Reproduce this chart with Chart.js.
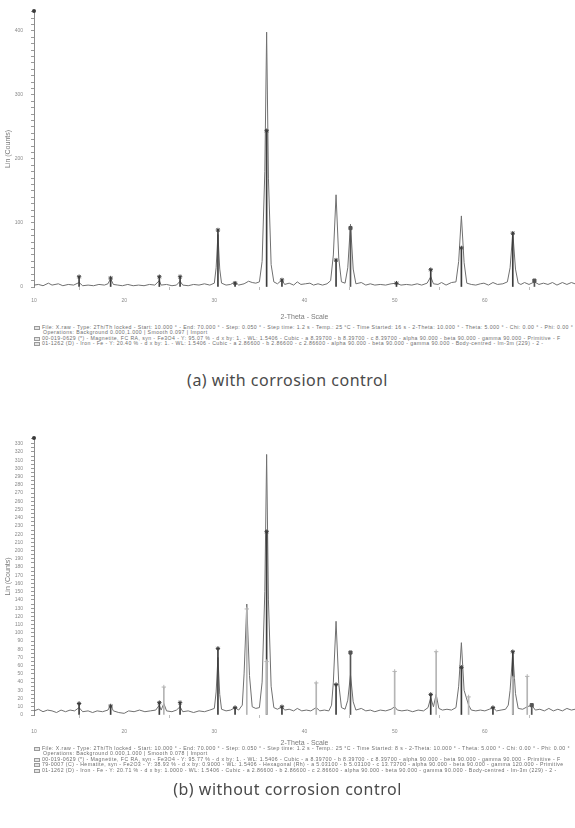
<!DOCTYPE html>
<html>
<head>
<meta charset="utf-8">
<script src="https://cdn.jsdelivr.net/npm/chart.js@4.4.1/dist/chart.umd.min.js"></script>
<style>
  body { margin: 0; background: #fff; }
  #page { position: relative; width: 575px; height: 828px; overflow: hidden; font-family: "Liberation Sans", Arial, sans-serif; }
  canvas { position: absolute; left: 0; }
  .foot { position: absolute; left: 34px; width: 540px; color: #6e6e6e; font-size: 5.2px; line-height: 5.4px; letter-spacing: 0.42px; }
  .foot div { white-space: nowrap; overflow: hidden; }
  .foot .ind { padding-left: 9px; }
  .ico { display: inline-block; width: 6px; height: 4px; border: 1px solid #9a9a9a; background: #e4e4e4; margin-right: 2px; vertical-align: -1px; box-sizing: border-box; }
  .caption { position: absolute; left: 0; width: 575px; text-align: center; font-family: "Noto Sans", sans-serif; font-size: 16px; letter-spacing: 0.5px; color: #4a4a4a; }
</style>
</head>
<body>
<div id="page">
  <canvas id="xrdA" width="575" height="322" style="top:0"></canvas>
  <div class="foot" style="top:325px">
    <div><span class="ico"></span>File: X.raw - Type: 2Th/Th locked - Start: 10.000 ° - End: 70.000 ° - Step: 0.050 ° - Step time: 1.2 s - Temp.: 25 °C - Time Started: 16 s - 2-Theta: 10.000 ° - Theta: 5.000 ° - Chi: 0.00 ° - Phi: 0.00 °</div>
    <div class="ind">Operations: Background 0.000,1.000 | Smooth 0.097 | Import</div>
    <div><span class="ico"></span>00-019-0629 (*) - Magnetite, FC RA, syn - Fe3O4 - Y: 95.07 % - d x by: 1. - WL: 1.5406 - Cubic - a 8.39700 - b 8.39700 - c 8.39700 - alpha 90.000 - beta 90.000 - gamma 90.000 - Primitive - F</div>
    <div><span class="ico"></span>01-1262 (D) - Iron - Fe - Y: 20.40 % - d x by: 1. - WL: 1.5406 - Cubic - a 2.86600 - b 2.86600 - c 2.86600 - alpha 90.000 - beta 90.000 - gamma 90.000 - Body-centred - Im-3m (229) - 2 -</div>
  </div>
  <div class="caption" style="top:369px">(a) with corrosion control</div>

  <canvas id="xrdB" width="575" height="323" style="top:427px"></canvas>
  <div class="foot" style="top:746px">
    <div><span class="ico"></span>File: X.raw - Type: 2Th/Th locked - Start: 10.000 ° - End: 70.000 ° - Step: 0.050 ° - Step time: 1.2 s - Temp.: 25 °C - Time Started: 8 s - 2-Theta: 10.000 ° - Theta: 5.000 ° - Chi: 0.00 ° - Phi: 0.00 °</div>
    <div class="ind">Operations: Background 0.000,1.000 | Smooth 0.078 | Import</div>
    <div><span class="ico"></span>00-019-0629 (*) - Magnetite, FC RA, syn - Fe3O4 - Y: 95.77 % - d x by: 1. - WL: 1.5406 - Cubic - a 8.39700 - b 8.39700 - c 8.39700 - alpha 90.000 - beta 90.000 - gamma 90.000 - Primitive - F</div>
    <div><span class="ico"></span>79-0007 (C) - Hematite, syn - Fe2O3 - Y: 38.93 % - d x by: 0.9000 - WL: 1.5406 - Hexagonal (Rh) - a 5.03100 - b 5.03100 - c 13.73700 - alpha 90.000 - beta 90.000 - gamma 120.000 - Primitive</div>
    <div><span class="ico"></span>01-1262 (D) - Iron - Fe - Y: 20.71 % - d x by: 1.0000 - WL: 1.5406 - Cubic - a 2.86600 - b 2.86600 - c 2.86600 - alpha 90.000 - beta 90.000 - gamma 90.000 - Body-centred - Im-3m (229) - 2 -</div>
  </div>
  <div class="caption" style="top:778px">(b) without corrosion control</div>
</div>

<script>
// (a) with corrosion control: measured pattern
const thetaA = [10.0, 10.5, 11.0, 11.6, 12.0, 12.7, 13.2, 13.8, 14.4, 15.0, 15.4, 16.0, 16.6, 17.2, 17.8, 18.2, 18.5, 18.8, 19.3, 19.8,
  20.4, 21.0, 21.6, 22.2, 22.8, 23.4, 23.9, 24.1, 24.7, 25.3, 25.8, 26.2, 26.5, 27.1, 27.7, 28.3, 28.9, 29.5, 30.0, 30.2,
  30.4, 30.6, 30.8, 31.3, 31.8, 32.3, 32.7, 33.3, 33.8, 34.2, 34.6, 35.0, 35.3, 35.6, 35.8, 36.0, 36.3, 36.6, 37.0, 37.5,
  37.8, 38.3, 38.8, 39.2, 39.6, 40.1, 40.6, 41.0, 41.5, 42.0, 42.5, 42.9, 43.2, 43.5, 43.8, 44.1, 44.5, 44.8, 45.1, 45.4,
  45.7, 46.3, 46.8, 47.3, 47.8, 48.4, 49.0, 49.6, 50.2, 50.7, 51.3, 51.9, 52.5, 53.0, 53.6, 54.0, 54.3, 54.8, 55.2, 55.7,
  56.3, 56.8, 57.1, 57.4, 57.7, 58.0, 58.5, 59.0, 59.5, 59.9, 60.4, 60.9, 61.4, 62.0, 62.5, 62.8, 63.1, 63.4, 63.7, 64.0,
  64.4, 64.9, 65.5, 66.0, 66.5, 67.0, 67.5, 68.0, 68.6, 69.1, 69.6, 70.0];
const countsA = [3, 4, 2, 6, 3, 5, 2, 4, 3, 7, 2, 3, 2, 4, 3, 5, 13, 4, 3, 2,
  4, 2, 3, 2, 4, 3, 10, 3, 4, 2, 3, 9, 3, 2, 4, 3, 5, 3, 6, 30,
  82, 28, 6, 3, 4, 8, 3, 5, 9, 7, 6, 8, 40, 180, 398, 170, 35, 8, 5, 11,
  4, 6, 3, 8, 4, 5, 6, 3, 5, 3, 5, 10, 50, 144, 45, 8, 6, 30, 98, 28,
  5, 7, 3, 5, 3, 4, 3, 5, 6, 3, 4, 3, 5, 3, 6, 16, 5, 4, 7, 3,
  7, 8, 40, 111, 38, 6, 4, 3, 5, 6, 3, 7, 4, 5, 8, 30, 85, 28, 6, 4,
  7, 4, 8, 4, 6, 4, 7, 3, 7, 4, 7, 5];
// (a) reference lines
const magnetitePosA = [15.0, 18.5, 23.9, 26.2, 30.4, 32.3, 35.8, 37.5, 43.5, 50.2, 54.0, 57.4, 63.1];
const magnetiteHA = [16, 14, 16, 16, 89, 6, 244, 11, 42, 6, 27, 61, 84];
const ironPosA = [45.1, 65.5];
const ironHA = [92, 10];

// (b) without corrosion control: measured pattern
const thetaB = [10.0, 10.5, 11.0, 11.5, 12.0, 12.5, 13.0, 13.5, 14.0, 14.5, 15.0, 15.4, 16.0, 16.5, 17.0, 17.6, 18.2, 18.5, 18.8, 19.4,
  20.0, 20.5, 21.1, 21.7, 22.3, 22.9, 23.5, 23.9, 24.1, 24.4, 24.7, 25.3, 25.8, 26.2, 26.5, 27.1, 27.7, 28.3, 28.9, 29.5,
  30.0, 30.2, 30.4, 30.6, 30.8, 31.3, 31.8, 32.3, 32.7, 33.1, 33.3, 33.6, 33.9, 34.2, 34.6, 35.0, 35.3, 35.6, 35.8, 36.0,
  36.3, 36.6, 37.0, 37.5, 37.8, 38.3, 38.8, 39.2, 39.7, 40.2, 40.7, 41.3, 41.7, 42.2, 42.7, 43.0, 43.2, 43.5, 43.8, 44.1,
  44.5, 44.8, 45.1, 45.4, 45.7, 46.3, 46.8, 47.3, 47.8, 48.4, 49.0, 49.6, 50.0, 50.3, 50.8, 51.4, 52.0, 52.6, 53.2, 53.7,
  54.0, 54.3, 54.6, 54.9, 55.3, 55.8, 56.3, 56.8, 57.1, 57.4, 57.7, 58.2, 58.5, 59.0, 59.5, 60.0, 60.5, 60.9, 61.3, 61.8,
  62.3, 62.6, 62.8, 63.1, 63.4, 63.7, 64.2, 64.7, 65.2, 65.6, 66.1, 66.6, 67.1, 67.6, 68.1, 68.6, 69.1, 69.6, 70.0];
const countsB = [5, 7, 4, 6, 5, 3, 6, 4, 6, 5, 9, 4, 5, 3, 5, 4, 6, 12, 5, 3,
  2, 5, 4, 6, 4, 5, 6, 12, 6, 14, 5, 4, 6, 10, 4, 5, 3, 5, 4, 6,
  8, 28, 70, 25, 7, 5, 6, 9, 6, 12, 50, 135, 48, 10, 8, 9, 40, 150, 317, 140,
  35, 9, 7, 10, 6, 7, 5, 8, 5, 6, 5, 9, 5, 6, 5, 12, 40, 114, 38, 9,
  7, 18, 49, 16, 6, 8, 5, 6, 4, 6, 5, 7, 10, 6, 5, 6, 4, 6, 5, 9,
  21, 10, 25, 8, 6, 7, 6, 9, 35, 88, 30, 12, 6, 5, 6, 5, 7, 9, 5, 6,
  7, 12, 30, 76, 26, 8, 7, 10, 12, 6, 7, 5, 8, 5, 7, 5, 8, 6, 7];
// (b) reference lines
const magnetitePosB = [15.0, 18.5, 23.9, 26.2, 30.4, 32.3, 35.8, 37.5, 43.5, 54.0, 57.4, 60.9, 63.1];
const magnetiteHB = [14, 11, 15, 15, 81, 9, 223, 10, 37, 25, 58, 9, 77];
const hematitePosB = [24.4, 33.6, 35.8, 41.3, 50.0, 54.6, 58.2, 63.1, 64.7];
const hematiteHB = [34, 129, 65, 39, 53, 77, 22, 45, 47];
const ironPosB = [45.1, 65.2];
const ironHB = [76, 12];

const axisDot = {
  id: 'axisDot',
  afterDraw(chart) {
    const { ctx, chartArea } = chart;
    ctx.save();
    ctx.fillStyle = '#3a3a3a';
    ctx.beginPath();
    ctx.arc(chartArea.left, chartArea.top, 2, 0, Math.PI * 2);
    ctx.fill();
    ctx.restore();
  }
};

function drawPattern(givenId, theta, counts, phases, yMax, yStep, labelStep, tickPad, titlePad) {
  const datasets = [{
    type: 'line',
    data: theta.map((t, i) => ({ x: t, y: counts[i] })),
    borderColor: '#707070',
    borderWidth: 1,
    pointRadius: 0,
    pointHoverRadius: 0,
    tension: 0,
    order: 3
  }];
  phases.forEach(ph => {
    const pts = ph.pos.map((p, i) => ({ x: p, y: ph.h[i] }));
    datasets.push({
      type: 'bar', data: pts, backgroundColor: ph.color,
      barThickness: 1, grouped: false, order: 2
    });
    datasets.push({
      type: 'line', data: pts, showLine: false, pointStyle: ph.marker,
      pointRadius: 2.2, pointHoverRadius: 0, pointBorderWidth: 1, pointBorderColor: ph.color,
      pointBackgroundColor: ph.color, order: 1
    });
  });

  new Chart(document.getElementById(givenId), {
    type: 'line',
    data: { datasets },
    options: {
      responsive: false,
      animation: false,
      devicePixelRatio: 1,
      events: [],
      layout: { autoPadding: false, padding: { top: 11, left: 0, right: 0, bottom: 0 } },
      plugins: { legend: { display: false }, tooltip: { enabled: false } },
      scales: {
        x: {
          type: 'linear', min: 10, max: 70, offset: false,
          ticks: { stepSize: 10, padding: tickPad, color: '#8a8a8a', font: { size: 5 },
            callback: v => (v < 70 ? v : '') },
          grid: { drawOnChartArea: false, tickLength: 3, color: '#bdbdbd' },
          border: { display: false },
          title: { display: true, text: '2-Theta - Scale', color: '#7a7a7a', font: { size: 7 },
            padding: { top: 0, bottom: titlePad } },
          afterFit: s => { s.height = 35; s.paddingLeft = 0; s.paddingRight = 0; }
        },
        y: {
          min: 0, max: yMax,
          ticks: { stepSize: yStep, autoSkip: false, maxTicksLimit: 1000, padding: 8, color: '#8a8a8a',
            font: { size: 5 }, callback: v => (v % labelStep === 0 ? v : '') },
          grid: { drawOnChartArea: false, tickLength: 3, color: '#9a9a9a' },
          border: { color: '#8c8c8c', width: 1 },
          title: { display: true, text: 'Lin (Counts)', color: '#7a7a7a', font: { size: 7 },
            padding: { top: 3.6, bottom: 0 } },
          afterFit: s => { s.width = 34; s.paddingTop = 0; s.paddingBottom = 0; }
        }
      }
    },
    plugins: [axisDot]
  });
}

drawPattern('xrdA', thetaA, countsA, [
  { pos: magnetitePosA, h: magnetiteHA, color: '#3c3c3c', marker: 'star' },
  { pos: ironPosA, h: ironHA, color: '#555555', marker: 'rect' }
], 431, 10, 100, 7.5, 0.8);

drawPattern('xrdB', thetaB, countsB, [
  { pos: hematitePosB, h: hematiteHB, color: '#b5b5b5', marker: 'cross' },
  { pos: magnetitePosB, h: magnetiteHB, color: '#3c3c3c', marker: 'star' },
  { pos: ironPosB, h: ironHB, color: '#555555', marker: 'rect' }
], 337, 5, 10, 10.5, 2.3);
</script>
</body>
</html>
